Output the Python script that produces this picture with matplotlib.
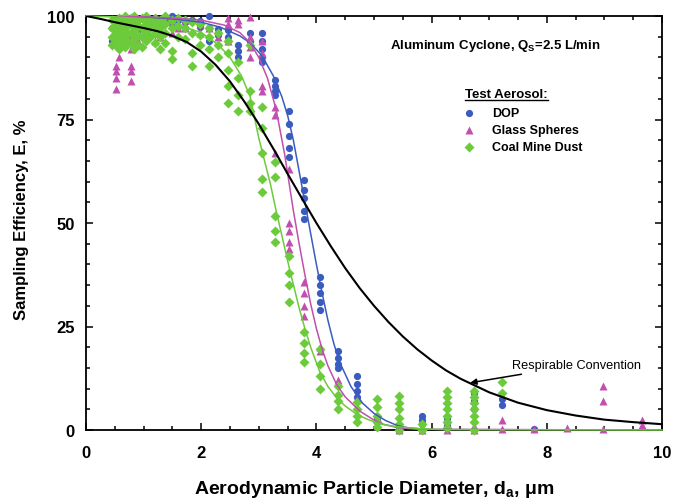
import matplotlib
matplotlib.use("Agg")
import matplotlib.pyplot as plt
import numpy as np
from matplotlib.lines import Line2D
from matplotlib.ticker import MultipleLocator

plt.rcParams['font.family'] = ['Liberation Sans', 'DejaVu Sans']

# measured points (particle size in um, efficiency in %)
dop_points = [
    (0.45, 97), (0.45, 94), (0.52, 96), (0.52, 93), (0.58, 98), (0.58, 95),
    (0.67, 99), (0.67, 96), (0.78, 98), (0.78, 95), (0.90, 99), (0.90, 96.5),
    (1.04, 98), (1.04, 95.5), (1.20, 99), (1.20, 97), (1.29, 97.5), (1.29, 96),
    (1.38, 99), (1.49, 100), (1.49, 98), (1.60, 99), (1.72, 98.5), (1.72, 97),
    (1.84, 99), (1.98, 98.7), (1.98, 97.3), (2.13, 100), (2.13, 97), (2.13, 94),
    (2.29, 96.8), (2.29, 95.5), (2.46, 96.5), (2.46, 95), (2.64, 93), (2.64, 91.5),
    (2.64, 90), (2.84, 96), (2.84, 94), (3.05, 96), (3.05, 94), (3.05, 92), (3.05, 90),
    (3.05, 89), (3.28, 84.5), (3.28, 83), (3.28, 82), (3.28, 81), (3.52, 77),
    (3.52, 74), (3.52, 71), (3.52, 68), (3.52, 66), (3.79, 60.5), (3.79, 58),
    (3.79, 56), (3.79, 53), (3.79, 51), (4.07, 37), (4.07, 35), (4.07, 33),
    (4.07, 31), (4.07, 29), (4.37, 19), (4.37, 17.5), (4.37, 16), (4.37, 15),
    (4.70, 13), (4.70, 11), (4.70, 9.5), (4.70, 8), (5.05, 3), (5.05, 2),
    (5.43, 1), (5.43, 0.3), (5.83, 3.4), (5.83, 2.5), (5.83, 1.5), (6.26, 3),
    (6.26, 2), (6.26, 1), (6.73, 9), (6.73, 7), (6.73, 5), (7.23, 7.5),
    (7.23, 6), (7.77, 0.3),
]

glass_points = [
    (0.52, 95), (0.52, 88), (0.52, 86.8), (0.52, 85), (0.52, 82.4), (0.58, 93),
    (0.58, 90), (0.67, 96), (0.67, 94), (0.78, 95), (0.78, 92), (0.78, 88),
    (0.78, 86.8), (0.78, 84.4), (0.90, 96), (0.90, 94), (1.04, 97), (1.04, 95),
    (1.20, 96), (1.20, 94), (1.29, 98), (1.29, 95), (1.49, 99), (1.49, 96),
    (1.60, 97), (1.72, 99), (1.72, 97), (1.98, 98), (1.98, 96), (2.13, 97),
    (2.29, 95), (2.46, 99.5), (2.46, 98), (2.46, 94), (2.64, 99), (2.64, 98),
    (2.84, 99.8), (2.84, 95), (2.84, 92.5), (2.84, 90), (3.05, 94), (3.05, 91),
    (3.05, 83), (3.05, 82), (3.28, 78), (3.28, 76), (3.28, 67), (3.52, 63),
    (3.52, 50), (3.52, 48), (3.52, 45.5), (3.52, 43.7), (3.79, 35.7), (3.79, 33),
    (3.79, 30), (3.79, 27.5), (4.07, 20), (4.07, 19), (4.37, 12), (4.70, 7.5),
    (5.05, 3.5), (5.05, 1), (5.43, 0.5), (5.43, 0), (5.83, 0), (6.26, 1.5),
    (6.26, 0), (6.73, 1), (6.73, 0), (7.23, 2.4), (7.23, 0.2), (7.77, 0.2),
    (8.35, 0.6), (8.98, 10.7), (8.98, 7.1), (8.98, 0.2), (9.65, 2.5), (9.65, 1.2),
]

coal_points = [
    (0.45, 99), (0.45, 97), (0.45, 95), (0.45, 93),
    (0.52, 99), (0.52, 97.5), (0.52, 96), (0.52, 94.5), (0.52, 93),
    (0.58, 99.5), (0.58, 98), (0.58, 96.5), (0.58, 95), (0.58, 92),
    (0.63, 99), (0.63, 97), (0.63, 95.5), (0.63, 93.5),
    (0.67, 100), (0.67, 98.5), (0.67, 97), (0.67, 95), (0.67, 92.5),
    (0.72, 99), (0.72, 97.5), (0.72, 96), (0.72, 94),
    (0.78, 99.5), (0.78, 98), (0.78, 96), (0.78, 93.5),
    (0.84, 100), (0.84, 98), (0.84, 96.5), (0.84, 94.5), (0.84, 92),
    (0.90, 99), (0.90, 97.5), (0.90, 95.5), (0.90, 93),
    (0.97, 99.5), (0.97, 97), (0.97, 95), (0.97, 92.5),
    (1.04, 100), (1.04, 98), (1.04, 96), (1.04, 94),
    (1.11, 99), (1.11, 97), (1.11, 95),
    (1.20, 99.5), (1.20, 98), (1.20, 96), (1.20, 93.5),
    (1.29, 99), (1.29, 97), (1.29, 95), (1.29, 92),
    (1.38, 100), (1.38, 98), (1.38, 96), (1.38, 93.5),
    (1.49, 99), (1.49, 97), (1.49, 91.5), (1.49, 89.6),
    (1.60, 99.5), (1.60, 97.5), (1.60, 95),
    (1.72, 99), (1.72, 97), (1.72, 94.5),
    (1.84, 98.5), (1.84, 96), (1.84, 91), (1.84, 88),
    (1.98, 98), (1.98, 95.5), (1.98, 93),
    (2.13, 97), (2.13, 95), (2.13, 92), (2.13, 88),
    (2.29, 96), (2.29, 93), (2.29, 90),
    (2.46, 94), (2.46, 91), (2.46, 87), (2.46, 83), (2.46, 79),
    (2.64, 89), (2.64, 85), (2.64, 81), (2.64, 77),
    (2.84, 93), (2.84, 82), (2.84, 79), (2.84, 77),
    (3.05, 78), (3.05, 73), (3.05, 67), (3.05, 60.6), (3.05, 57.5),
    (3.28, 64.7), (3.28, 61), (3.28, 51.7), (3.28, 48), (3.28, 45.4),
    (3.52, 42), (3.52, 38), (3.52, 35), (3.52, 31),
    (3.79, 23.6), (3.79, 21), (3.79, 18.5), (3.79, 16.4),
    (4.07, 19.5), (4.07, 16), (4.07, 13), (4.07, 10),
    (4.37, 10.6), (4.37, 8.5), (4.37, 7), (4.37, 5),
    (4.70, 6.7), (4.70, 5), (4.70, 3.5), (4.70, 1.9),
    (5.05, 7.5), (5.05, 5.5), (5.05, 3.5), (5.05, 2), (5.05, 0.7),
    (5.43, 8.2), (5.43, 6.5), (5.43, 5), (5.43, 3), (5.43, 1.5), (5.43, 0),
    (5.83, 1.5), (5.83, 0),
    (6.26, 9.4), (6.26, 8), (6.26, 6.5), (6.26, 5), (6.26, 3.5), (6.26, 2), (6.26, 0.5),
    (6.73, 9.4), (6.73, 8), (6.73, 6.5), (6.73, 5), (6.73, 3.5), (6.73, 2), (6.73, 0),
    (7.23, 11.6), (7.23, 8.9),
]

# fitted curves
dop_fit_x = [0, 1, 1.5, 2, 2.33, 2.67, 2.85, 3.05, 3.25, 3.4, 3.5, 3.6, 3.7, 3.8,
             3.9, 4.0, 4.1, 4.2, 4.3, 4.4, 4.6, 4.8, 5.0, 5.2, 5.4, 5.6, 6.0, 10]
dop_fit_y = [100, 99.8, 99.3, 98.5, 97.3, 95.2, 93.5, 90.5, 85.6, 80.5, 76, 70, 62.5, 55,
             47.5, 40, 33, 26.5, 21, 16.5, 10.5, 6.5, 4, 2.3, 1.1, 0.5, 0.1, 0]

glass_fit_x = [0, 1, 1.5, 2, 2.4, 2.67, 2.85, 3.0, 3.15, 3.3, 3.45, 3.6, 3.7, 3.8,
               3.9, 4.0, 4.1, 4.2, 4.35, 4.5, 4.76, 5.0, 5.16, 5.4, 5.8, 10]
glass_fit_y = [100, 99.8, 99.5, 99, 97.8, 96, 93.5, 90, 85, 77.5, 66.5, 53, 45, 37.5,
               30.5, 24.5, 19.5, 15.5, 11, 8, 4.5, 2.4, 1.4, 0.6, 0.15, 0]

coal_fit_x = [0, 0.5, 1, 1.5, 2, 2.3, 2.5, 2.7, 2.85, 3.0, 3.1, 3.2, 3.3, 3.4, 3.54,
              3.7, 3.8, 3.9, 4.06, 4.2, 4.35, 4.5, 4.7, 4.9, 5.16, 5.4, 5.8, 6.2, 10]
coal_fit_y = [100, 99.8, 99.3, 98.3, 96, 93, 90, 85.5, 80.5, 70.5, 65, 59.5, 53, 47, 38.5,
              29.5, 24.5, 20, 14, 10.5, 7.8, 5.8, 3.8, 2.5, 1.3, 0.8, 0.3, 0.1, 0]

resp_x = [0, 0.25, 0.5, 0.75, 1, 1.25, 1.5, 1.75, 2, 2.25, 2.5, 2.75, 3, 3.25, 3.5,
          3.75, 4, 4.25, 4.5, 4.75, 5, 5.25, 5.5, 5.75, 6, 6.25, 6.5, 7, 7.5, 8,
          8.5, 9, 9.5, 10]
resp_y = [100, 99.3, 98.5, 97.8, 97.1, 96.3, 95.2, 93.7, 91.4, 88.2, 84.2, 79.3, 73.9,
          68.0, 61.9, 55.9, 50.0, 44.4, 39.1, 34.3, 30.0, 26.1, 22.6, 19.5, 16.8, 14.4,
          12.4, 9.1, 6.6, 4.8, 3.5, 2.5, 1.9, 1.4]

series_names = ['DOP', 'Glass Spheres', 'Coal Mine Dust']

c_dop = '#3a5bbf'
c_glass = '#c04fae'
c_coal = '#6ccb3a'
styles = [('o', c_dop, 5.2), ('^', c_glass, 6), ('D', c_coal, 5.6)]

fig = plt.figure(figsize=(6.86, 5.02), dpi=100)
ax = fig.add_axes([86 / 686, 71 / 502, 576 / 686, 414 / 502])

for pts, (mk, col, ms) in zip([dop_points, glass_points, coal_points], styles):
    a = np.array(pts)
    ax.plot(a[:, 0], a[:, 1], mk, color=col, ms=ms, mec='none', clip_on=False, zorder=3)

ax.plot(dop_fit_x, dop_fit_y, color=c_dop, lw=1.1, zorder=4)
ax.plot(glass_fit_x, glass_fit_y, color=c_glass, lw=1.1, zorder=4)
ax.plot(coal_fit_x, coal_fit_y, color=c_coal, lw=1.1, zorder=4, clip_on=False)
ax.plot(resp_x, resp_y, color='black', lw=1.5, zorder=5)

ax.set_xlim(0, 10)
ax.set_ylim(0, 100)
ax.xaxis.set_major_locator(MultipleLocator(2))
ax.xaxis.set_minor_locator(MultipleLocator(0.5))
ax.yaxis.set_major_locator(MultipleLocator(25))
ax.yaxis.set_minor_locator(MultipleLocator(5))
ax.tick_params(which='both', direction='in', top=True, right=True, width=1.1)
ax.tick_params(which='major', length=5, labelsize=12)
ax.tick_params(axis='x', which='major', pad=11)
ax.tick_params(axis='y', which='major', pad=8)
ax.tick_params(which='minor', length=3)
for lab in ax.get_xticklabels() + ax.get_yticklabels():
    lab.set_fontweight('bold')
for s in ax.spines.values():
    s.set_linewidth(1.3)

ax.set_xlabel(r'Aerodynamic Particle Diameter, d$_\mathregular{a}$, $\mathregular{\mu}$m',
              fontsize=14, fontweight='bold', va='center')
ax.xaxis.set_label_coords(0.5, -(490 - 431) / 414)
ax.set_ylabel('Sampling Efficiency, E, %', fontsize=12, fontweight='bold', va='center')
ax.yaxis.set_label_coords(-(86 - 21) / 576, 0.51)

fig.text(390 / 686, 1 - 46 / 502, r'Aluminum Cyclone, Q$_\mathregular{S}$=2.5 L/min',
         fontsize=9.5, fontweight='bold', ha='left', va='center')

# legend block
title = fig.text(465 / 686, 1 - 95 / 502, 'Test Aerosol:', fontsize=9.5,
                 fontweight='bold', ha='left', va='center')
for i, (name, (mk, col, ms)) in enumerate(zip(series_names, styles)):
    ypx = 114 + 17 * i
    fig.add_artist(Line2D([469 / 686], [1 - ypx / 502], ls='none', marker=mk, color=col,
                          ms=ms, mec='none', transform=fig.transFigure))
    fig.text(492 / 686, 1 - ypx / 502, name, fontsize=9, fontweight='bold',
             ha='left', va='center')

ax.annotate('Respirable Convention', xy=(6.67, 11.4), xytext=(7.4, 15.7),
            fontsize=9.2, ha='left', va='center',
            arrowprops=dict(arrowstyle='-|>', color='black', lw=1.1,
                            mutation_scale=9, shrinkA=2, shrinkB=0))

# underline the legend title
fig.canvas.draw()
bb = title.get_window_extent()
fig.add_artist(Line2D([bb.x0, bb.x1], [bb.y0, bb.y0], color='black', lw=1.0,
                      transform=None))

fig.savefig('out.png', dpi=100)
